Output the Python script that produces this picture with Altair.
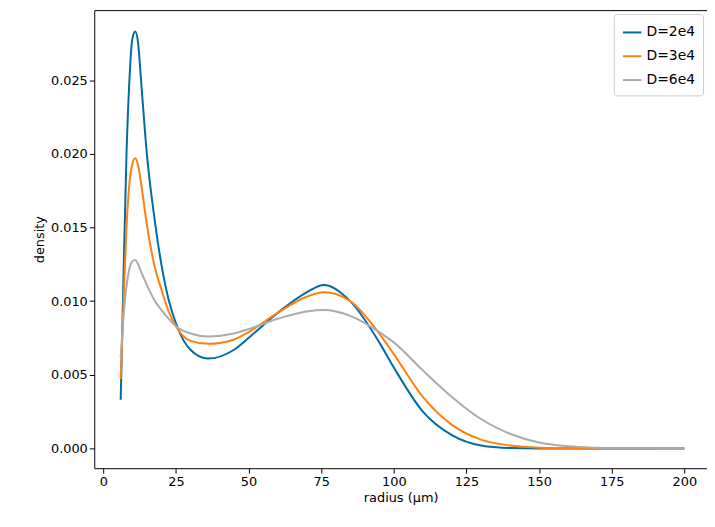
import altair as alt
import pandas as pd

radius = [6, 7, 8, 9, 10, 11, 12, 13, 15, 17.5, 20, 22.5, 25, 30, 36, 45, 50, 60, 70, 76, 85, 95, 100,
          110, 120, 130, 140, 150, 160, 170, 180, 190, 200]
d2e4 = [0.0033, 0.012, 0.020, 0.025, 0.0278, 0.0283, 0.0275, 0.025, 0.020, 0.0158, 0.0125, 0.0101, 0.0085,
        0.0067, 0.0061, 0.0067, 0.0075, 0.0092, 0.0106, 0.0111, 0.0100, 0.0072, 0.0055,
        0.0025, 0.0009, 0.0002, 0.00003, 0, 0, 0, 0, 0, 0]
d3e4 = [0.0047, 0.010, 0.015, 0.018, 0.0193, 0.0197, 0.0192, 0.018, 0.0152, 0.0125, 0.0108, 0.0093, 0.0083,
        0.0073, 0.0071, 0.0074, 0.0079, 0.0092, 0.0103, 0.0106, 0.0100, 0.0078, 0.0064,
        0.0035, 0.0016, 0.0006, 0.0002, 0.00005, 0, 0, 0, 0, 0]
d6e4 = [0.0062, 0.009, 0.011, 0.0122, 0.0127, 0.0128, 0.0125, 0.012, 0.0111, 0.0101, 0.0094, 0.0088, 0.0083,
        0.0078, 0.0076, 0.0078, 0.0081, 0.0088, 0.0093, 0.0094, 0.0090, 0.0079, 0.0072,
        0.0053, 0.0035, 0.0020, 0.0010, 0.0004, 0.00015, 0.00005, 0.00001, 0, 0]

series = ["D=2e4", "D=3e4", "D=6e4"]
colors = ["#006BA4", "#FF800E", "#ABABAB"]

df = pd.concat([
    pd.DataFrame({"radius": radius, "density": vals, "series": name})
    for name, vals in zip(series, [d2e4, d3e4, d6e4])
])

chart = alt.Chart(df).mark_line(strokeWidth=2, interpolate="monotone").encode(
    x=alt.X(
        "radius:Q",
        scale=alt.Scale(domain=[-3.1, 207.8], nice=False, zero=False),
        axis=alt.Axis(values=list(range(0, 201, 25)), title="radius (μm)"),
    ),
    y=alt.Y(
        "density:Q",
        scale=alt.Scale(domain=[-0.00134, 0.02975], nice=False, zero=False),
        axis=alt.Axis(values=[0, 0.005, 0.01, 0.015, 0.02, 0.025], format=".3f", title="density"),
    ),
    color=alt.Color(
        "series:N",
        scale=alt.Scale(domain=series, range=colors),
        legend=alt.Legend(
            title=None, orient="top-right", strokeColor="#cccccc", fillColor="white",
            padding=8, cornerRadius=3, symbolType="stroke", symbolStrokeWidth=2,
            labelFontSize=14, symbolSize=350, offset=4, rowPadding=6,
        ),
    ),
).properties(
    width=618,
    height=462,
    padding={"left": 25, "top": 0, "right": 0, "bottom": 5},
).configure_view(
    stroke="black", strokeWidth=1,
).configure_axis(
    grid=False, domain=False, tickColor="black", tickSize=5,
    labelFontSize=13, titleFontSize=13, labelColor="black", titleColor="black",
    titleFontWeight="normal", labelFont="DejaVu Sans", titleFont="DejaVu Sans",
).configure_legend(
    labelFont="DejaVu Sans",
)

chart.save("out.html", embed_options={"renderer": "svg", "actions": False})
